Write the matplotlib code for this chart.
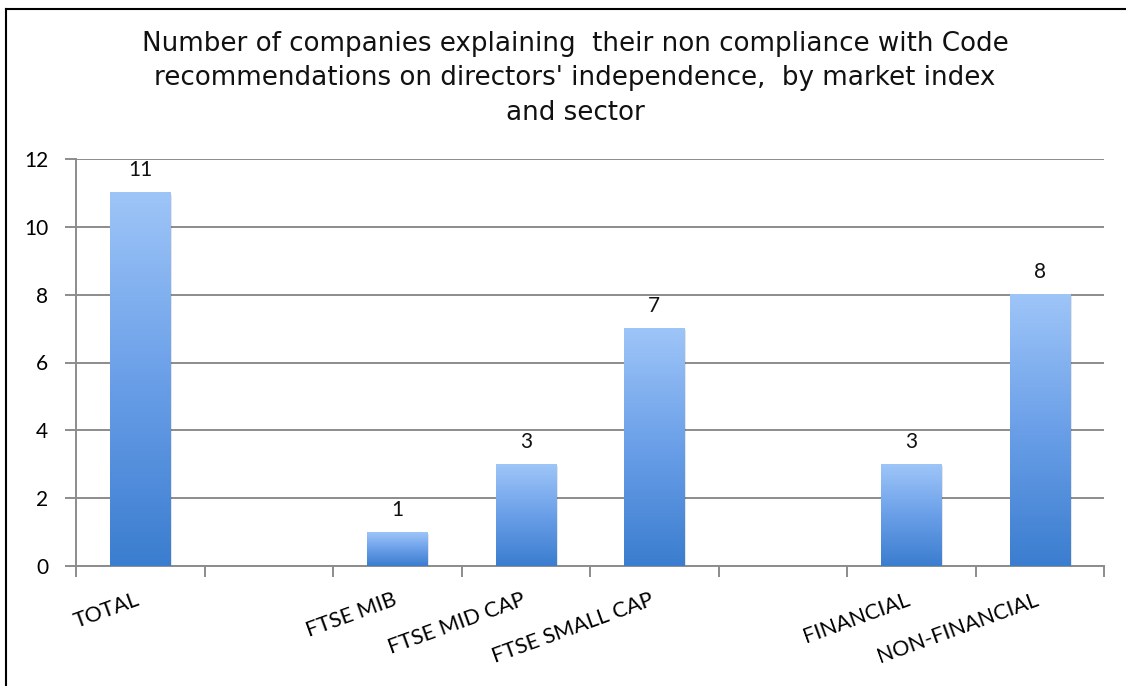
import matplotlib
matplotlib.use("Agg")
import matplotlib.pyplot as plt
import matplotlib.transforms as mtransforms
from matplotlib.colors import LinearSegmentedColormap
from matplotlib.lines import Line2D
import numpy as np

# Chart data (blank slots separate the index group from the sector group)
categories = ["TOTAL", "", "FTSE MIB", "FTSE MID CAP", "FTSE SMALL CAP",
              "", "FINANCIAL", "NON-FINANCIAL"]
counts = [11, None, 1, 3, 7, None, 3, 8]
y_ticks = [0, 2, 4, 6, 8, 10, 12]
title = ("Number of companies explaining  their non compliance with Code\n"
         "recommendations on directors' independence,  by market index\n"
         "and sector")

fig = plt.figure(figsize=(11.26, 6.86), dpi=100)
ax = fig.add_axes([76 / 1126, 1 - 566 / 686, (1104 - 76) / 1126, (566 - 159) / 686])

grid_color = "#8c8c8c"
bar_width = 0.47
grad = LinearSegmentedColormap.from_list("bar", ["#3b7dcf", "#6a9fe8", "#9ec5f8"])
gradient = np.linspace(0, 1, 256).reshape(-1, 1)

for i, v in enumerate(counts):
    if v is None:
        continue
    x0 = i - bar_width / 2
    # soft shadow behind each bar
    ax.add_patch(plt.Rectangle((x0 + 0.015, -0.05), bar_width, v, facecolor="#000000",
                               alpha=0.10, edgecolor="none", zorder=2))
    ax.imshow(gradient, extent=[x0, x0 + bar_width, 0, v], origin="lower",
              cmap=grad, aspect="auto", interpolation="bilinear", zorder=3)
    ax.annotate(str(v), (i, v), xytext=(0, 9), textcoords="offset points",
                ha="center", va="bottom", fontsize=15, family="Lato", color="#111111")

ax.set_xlim(-0.5, len(categories) - 0.5)
ax.set_ylim(0, 12)
ax.set_yticks(y_ticks)
ax.set_yticklabels([str(t) for t in y_ticks], fontsize=15, family="Lato")
ax.yaxis.grid(True, color=grid_color, linewidth=1.4, zorder=0.5)
ax.set_axisbelow(True)

# boundary ticks on the category axis, labels centred under each slot
ax.set_xticks(np.arange(-0.5, len(categories), 1.0))
ax.set_xticklabels([])
ax.set_xticks(np.arange(len(categories)), minor=True)
ax.set_xticklabels(categories, minor=True, rotation=20, ha="right",
                   rotation_mode="anchor", fontsize=15.5, family="Lato")
ax.tick_params(axis="x", which="major", length=8, width=1.4, color=grid_color, direction="out")
ax.tick_params(axis="x", which="minor", length=0, pad=17)
ax.tick_params(axis="y", length=8, width=1.4, color=grid_color, pad=12)
shift = mtransforms.ScaledTranslation(-5 / 100, 0, fig.dpi_scale_trans)
for lbl in ax.get_xticklabels(minor=True):
    lbl.set_transform(lbl.get_transform() + shift)

for side in ("top", "right"):
    ax.spines[side].set_visible(False)
for side in ("left", "bottom"):
    ax.spines[side].set_color(grid_color)
    ax.spines[side].set_linewidth(1.4)

fig.text(575 / 1126, 1 - 31 / 686, title, ha="center", va="top", fontsize=18.8,
         family="DejaVu Sans", linespacing=1.42, color="#111111")

# chart frame (top and left edges)
fig.add_artist(Line2D([6 / 1126, 1.0], [1 - 9 / 686, 1 - 9 / 686], color="black",
                      linewidth=1.5, transform=fig.transFigure))
fig.add_artist(Line2D([6 / 1126, 6 / 1126], [0, 1 - 9 / 686], color="black",
                      linewidth=1.5, transform=fig.transFigure))

fig.savefig("out.png", dpi=100, facecolor="white")
